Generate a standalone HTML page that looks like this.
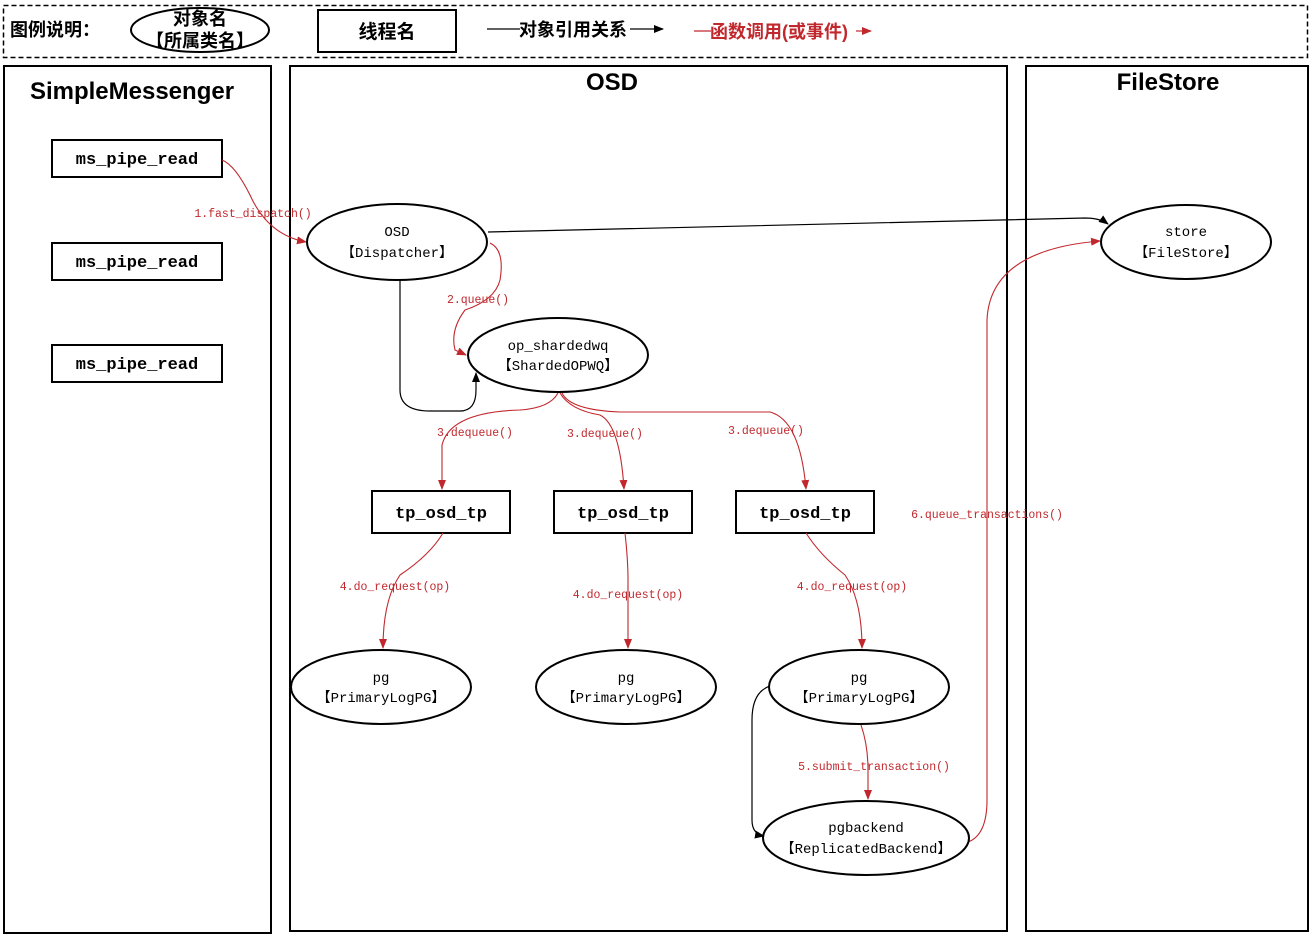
<!DOCTYPE html>
<html><head><meta charset="utf-8"><style>
html,body{margin:0;padding:0;background:#fff;}
svg{display:block;}
.m{font-family:"Liberation Mono","DejaVu Sans Mono",monospace;}
.s{font-family:"Liberation Sans","Noto Sans CJK SC",sans-serif;font-weight:bold;}
</style></head><body>
<svg width="1311" height="935" viewBox="0 0 1311 935" xmlns="http://www.w3.org/2000/svg">
<defs>
<marker id="ab" markerWidth="10" markerHeight="8" refX="9" refY="4" orient="auto" markerUnits="userSpaceOnUse"><path d="M0,0 L10,4 L0,8 z" fill="#000"/></marker>
<marker id="ar" markerWidth="10" markerHeight="8" refX="9" refY="4" orient="auto" markerUnits="userSpaceOnUse"><path d="M0,0 L10,4 L0,8 z" fill="#c0282d"/></marker>
</defs>
<!-- legend -->
<rect x="3.5" y="5.5" width="1304" height="52" fill="none" stroke="#000" stroke-width="1.5" stroke-dasharray="5,3"/>
<text x="10" y="36" class="s" font-size="18">图例说明：</text>
<ellipse cx="200" cy="30" rx="69" ry="22" fill="none" stroke="#000" stroke-width="2"/>
<text x="200" y="25" class="s" font-size="18" text-anchor="middle">对象名</text>
<text x="200" y="47" class="s" font-size="18" text-anchor="middle">【所属类名】</text>
<rect x="318" y="10" width="138" height="42" fill="none" stroke="#000" stroke-width="2"/>
<text x="387" y="38" class="s" font-size="19" text-anchor="middle">线程名</text>
<line x1="487" y1="29" x2="520" y2="29" stroke="#000" stroke-width="1.2"/>
<text x="519" y="36" class="s" font-size="18">对象引用关系</text>
<line x1="630" y1="29" x2="663" y2="29" stroke="#000" stroke-width="1.2" marker-end="url(#ab)"/>
<line x1="694" y1="31" x2="711" y2="31" stroke="#c0282d" stroke-width="1.2"/>
<text x="710" y="38" class="s" font-size="18" fill="#c0282d">函数调用(或事件)</text>
<line x1="856" y1="31" x2="871" y2="31" stroke="#c0282d" stroke-width="1.2" marker-end="url(#ar)"/>
<!-- panels -->
<rect x="4" y="66" width="267" height="867" fill="none" stroke="#000" stroke-width="2"/>
<rect x="290" y="66" width="717" height="865" fill="none" stroke="#000" stroke-width="2"/>
<rect x="1026" y="66" width="282" height="865" fill="none" stroke="#000" stroke-width="2"/>
<text x="132" y="99" class="s" font-size="24" text-anchor="middle">SimpleMessenger</text>
<text x="612" y="90" class="s" font-size="24" text-anchor="middle">OSD</text>
<text x="1168" y="90" class="s" font-size="24" text-anchor="middle">FileStore</text>
<!-- ms_pipe_read -->
<g class="m" font-size="17" font-weight="bold" text-anchor="middle">
<rect x="52" y="140" width="170" height="37" fill="#fff" stroke="#000" stroke-width="2"/>
<text x="137" y="164">ms_pipe_read</text>
<rect x="52" y="243" width="170" height="37" fill="#fff" stroke="#000" stroke-width="2"/>
<text x="137" y="267">ms_pipe_read</text>
<rect x="52" y="345" width="170" height="37" fill="#fff" stroke="#000" stroke-width="2"/>
<text x="137" y="369">ms_pipe_read</text>
<rect x="372" y="491" width="138" height="42" fill="#fff" stroke="#000" stroke-width="2"/>
<text x="441" y="518">tp_osd_tp</text>
<rect x="554" y="491" width="138" height="42" fill="#fff" stroke="#000" stroke-width="2"/>
<text x="623" y="518">tp_osd_tp</text>
<rect x="736" y="491" width="138" height="42" fill="#fff" stroke="#000" stroke-width="2"/>
<text x="805" y="518">tp_osd_tp</text>
</g>
<!-- black connectors -->
<path d="M488,232 L1085,218 Q1100,218 1108,224" fill="none" stroke="#000" stroke-width="1.2" marker-end="url(#ab)"/>
<path d="M400,280 L400,390 Q400,411 430,411 L460,411 Q476,411 476,390 L476,373" fill="none" stroke="#000" stroke-width="1.2" marker-end="url(#ab)"/>
<path d="M770,686 Q752,692 752,720 L752,820 Q752,834 764,836" fill="none" stroke="#000" stroke-width="1.2" marker-end="url(#ab)"/>
<!-- red connectors -->
<g fill="none" stroke="#c0282d" stroke-width="1.1">
<path d="M222,160 Q235,165 250,195 Q268,235 306,242" marker-end="url(#ar)"/>
<path d="M490,243 Q505,250 500,280 Q495,300 465,310 Q450,330 455,350 L466,355" marker-end="url(#ar)"/>
<path d="M558,393 Q550,408 520,410 Q450,412 442,445 L442,489" marker-end="url(#ar)"/>
<path d="M560,393 Q570,410 600,415 Q620,425 624,489" marker-end="url(#ar)"/>
<path d="M562,393 Q570,410 620,412 L770,412 Q800,420 806,489" marker-end="url(#ar)"/>
<path d="M443,533 Q430,555 400,575 Q383,600 383,648" marker-end="url(#ar)"/>
<path d="M625,533 Q628,560 628,580 L628,648" marker-end="url(#ar)"/>
<path d="M806,533 Q820,555 845,575 Q862,600 862,648" marker-end="url(#ar)"/>
<path d="M861,725 Q868,745 868,770 L868,799" marker-end="url(#ar)"/>
<path d="M968,842 Q987,835 987,800 L987,320 Q990,250 1100,241" marker-end="url(#ar)"/>
</g>
<!-- ellipses -->
<g class="m" font-size="14" text-anchor="middle">
<ellipse cx="397" cy="242" rx="90" ry="38" fill="#fff" stroke="#000" stroke-width="2"/>
<text x="397" y="236">OSD</text><text x="397" y="257">【Dispatcher】</text>
<ellipse cx="1186" cy="242" rx="85" ry="37" fill="#fff" stroke="#000" stroke-width="2"/>
<text x="1186" y="236">store</text><text x="1186" y="257">【FileStore】</text>
<ellipse cx="558" cy="355" rx="90" ry="37" fill="#fff" stroke="#000" stroke-width="2"/>
<text x="558" y="350">op_shardedwq</text><text x="558" y="370">【ShardedOPWQ】</text>
<ellipse cx="381" cy="687" rx="90" ry="37" fill="#fff" stroke="#000" stroke-width="2"/>
<text x="381" y="682">pg</text><text x="381" y="702">【PrimaryLogPG】</text>
<ellipse cx="626" cy="687" rx="90" ry="37" fill="#fff" stroke="#000" stroke-width="2"/>
<text x="626" y="682">pg</text><text x="626" y="702">【PrimaryLogPG】</text>
<ellipse cx="859" cy="687" rx="90" ry="37" fill="#fff" stroke="#000" stroke-width="2"/>
<text x="859" y="682">pg</text><text x="859" y="702">【PrimaryLogPG】</text>
<ellipse cx="866" cy="838" rx="103" ry="37" fill="#fff" stroke="#000" stroke-width="2"/>
<text x="866" y="832">pgbackend</text><text x="866" y="853">【ReplicatedBackend】</text>
</g>
<!-- red labels -->
<g class="m" font-size="11.5" fill="#c0282d" text-anchor="middle">
<text x="253" y="217">1.fast_dispatch()</text>
<text x="478" y="303">2.queue()</text>
<text x="475" y="436">3.dequeue()</text>
<text x="605" y="437">3.dequeue()</text>
<text x="766" y="434">3.dequeue()</text>
<text x="395" y="590">4.do_request(op)</text>
<text x="628" y="598">4.do_request(op)</text>
<text x="852" y="590">4.do_request(op)</text>
<text x="874" y="770">5.submit_transaction()</text>
<text x="987" y="518">6.queue_transactions()</text>
</g>
</svg>
</body></html>
